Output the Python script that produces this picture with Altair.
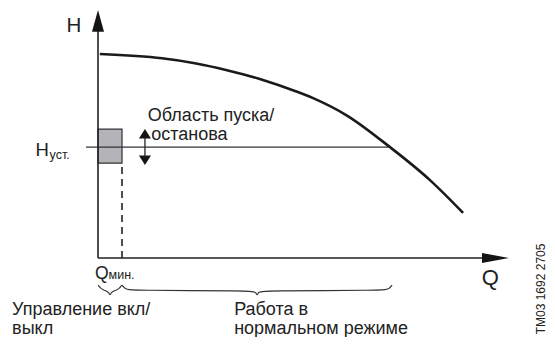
import altair as alt
import pandas as pd

# ---- data (arbitrary Q/H units: origin of axes at 0,0; curve start ~ H=100, curve end ~ Q=100)
curve_q = [0.5, 17.6, 26.6, 35.7, 45.1, 54.1, 59.1, 68.4, 80.2, 91.2, 100.3]
curve_h = [99.5, 97.4, 95.0, 91.5, 87.0, 81.5, 78.0, 69.5, 54.1, 38.0, 22.0]

H_SET = 54.1          # H_уст.
Q_MIN = 6.6           # Q_мин.
BAND = [46.3, 62.9]   # start/stop band around H_уст.
Q_ARROW = 12.9        # double arrow position
Q_SET_END = 80.2      # where H_уст. meets the curve
Q_NORMAL_END = 80.8   # end of "normal operation" brace
Y_AXIS_TOP = 110.7
X_AXIS_END = 106.3

FONT = "Liberation Sans"
INK = "#1a1a1a"

W, H = 539, 329
x_dom = [-24.725, 123.352]
y_dom = [-38.537, 121.951]
xs = alt.Scale(domain=x_dom, nice=False, zero=False)
ys = alt.Scale(domain=y_dom, nice=False, zero=False)


def X(field="q"):
    return alt.X(f"{field}:Q", scale=xs, axis=None)


def Y(field="h"):
    return alt.Y(f"{field}:Q", scale=ys, axis=None)


curve = alt.Chart(pd.DataFrame({"q": curve_q, "h": curve_h})).mark_line(
    color=INK, strokeWidth=2.6, interpolate="monotone"
).encode(x=X(), y=Y(), order="q:Q")

# axes
axes_df = pd.DataFrame({
    "q": [0, 0], "q2": [0, X_AXIS_END], "h": [0, 0], "h2": [Y_AXIS_TOP, 0]
})
axes = alt.Chart(axes_df).mark_rule(color="#222", strokeWidth=1.6).encode(
    x=X(), x2="q2:Q", y=Y(), y2="h2:Q"
)

# vertical arrowheads (y axis, double arrow up/down) as unstacked horizontal areas
HW = 1.65  # half width in Q units
vheads = pd.DataFrame([
    {"g": "yaxis", "h": Y_AXIS_TOP - 0.3, "ql": -HW, "qr": HW},
    {"g": "yaxis", "h": 121.0, "ql": 0, "qr": 0},
    {"g": "up", "h": 58.3, "ql": Q_ARROW - HW, "qr": Q_ARROW + HW},
    {"g": "up", "h": BAND[1], "ql": Q_ARROW, "qr": Q_ARROW},
    {"g": "down", "h": 45.4, "ql": Q_ARROW, "qr": Q_ARROW},
    {"g": "down", "h": 50.0, "ql": Q_ARROW - HW, "qr": Q_ARROW + HW},
])
vhead_layer = alt.Chart(vheads).mark_area(orient="horizontal", color="#151515", opacity=1).encode(
    y=Y(), x=alt.X("ql:Q", scale=xs, axis=None, stack=None), x2="qr:Q", detail="g:N"
)

# x-axis arrowhead as an unstacked area
xhead = alt.Chart(pd.DataFrame({"q": [X_AXIS_END - 0.8, 112.9], "lo": [-2.44, 0], "hi": [2.44, 0]})).mark_area(
    color="#151515", opacity=1
).encode(
    x=X(), y=alt.Y("lo:Q", scale=ys, axis=None, stack=None), y2="hi:Q"
)

# start/stop band box
box = alt.Chart(pd.DataFrame({"q": [0], "q2": [Q_MIN], "h": [BAND[0]], "h2": [BAND[1]]})).mark_rect(
    fill="#b4b4b8", stroke="#333", strokeWidth=1.2
).encode(x=X(), x2="q2:Q", y=Y(), y2="h2:Q")

# H set line
hset = alt.Chart(pd.DataFrame({"q": [-3.3], "q2": [Q_SET_END], "h": [H_SET]})).mark_rule(
    color="#333", strokeWidth=1.3
).encode(x=X(), x2="q2:Q", y=Y())

# dashed Q min line
qmin = alt.Chart(pd.DataFrame({"q": [Q_MIN], "h": [0], "h2": [BAND[0]]})).mark_rule(
    color="#222", strokeWidth=1.6, strokeDash=[7, 5]
).encode(x=X(), y=Y(), y2="h2:Q")

# double arrow shaft
darrow = alt.Chart(pd.DataFrame({"q": [Q_ARROW], "h": [49.0], "h2": [59.0]})).mark_rule(
    color="#222", strokeWidth=1.3
).encode(x=X(), y=Y(), y2="h2:Q")


# braces (underbraces) between two Q values
def brace(q0, q1):
    top, flat, tip = -13.2, -15.9, -18.5
    qm = (q0 + q1) / 2
    pts = [(q0, top), (q0 + 0.8, flat + 0.9), (q0 + 1.8, flat), (qm - 1.2, flat),
           (qm - 0.3, flat - 0.9), (qm, tip), (qm + 0.3, flat - 0.9), (qm + 1.2, flat),
           (q1 - 1.8, flat), (q1 - 0.8, flat + 0.9), (q1, top)]
    return pd.DataFrame({"q": [p[0] for p in pts], "h": [p[1] for p in pts], "i": range(len(pts))})


b1 = brace(0, Q_MIN).assign(g="a")
b2 = brace(Q_MIN, Q_NORMAL_END).assign(g="b")
braces = alt.Chart(pd.concat([b1, b2])).mark_line(
    color="#333", strokeWidth=1.1, interpolate="basis"
).encode(x=X(), y=Y(), detail="g:N", order="i:Q")

# labels
labels = pd.DataFrame([
    {"q": -6.6, "h": 113.2, "t": "H", "fs": 20.5, "al": "center", "bl": "middle"},
    {"q": 107.8, "h": -10.0, "t": "Q", "fs": 22, "al": "center", "bl": "middle"},
    {"q": -17.2, "h": 49.8, "t": "H", "fs": 18.5, "al": "left", "bl": "alphabetic"},
    {"q": -13.3, "h": 48.4, "t": "уст.", "fs": 12.5, "al": "left", "bl": "alphabetic"},
    {"q": -0.8, "h": -10.2, "t": "Q", "fs": 17.5, "al": "left", "bl": "alphabetic"},
    {"q": 2.9, "h": -10.2, "t": "мин.", "fs": 12.5, "al": "left", "bl": "alphabetic"},
    {"q": 13.7, "h": 66.6, "t": "Область пуска/", "fs": 18, "al": "left", "bl": "alphabetic"},
    {"q": 14.6, "h": 57.6, "t": "останова", "fs": 18, "al": "left", "bl": "alphabetic"},
    {"q": -23.6, "h": -27.6, "t": "Управление вкл/", "fs": 18, "al": "left", "bl": "alphabetic"},
    {"q": -23.6, "h": -37.0, "t": "выкл", "fs": 18, "al": "left", "bl": "alphabetic"},
    {"q": 37.4, "h": -27.6, "t": "Работа в", "fs": 18, "al": "left", "bl": "alphabetic"},
    {"q": 37.4, "h": -37.0, "t": "нормальном режиме", "fs": 18, "al": "left", "bl": "alphabetic"},
])

text_layers = []
for (fs, al, bl), grp in labels.groupby(["fs", "al", "bl"]):
    text_layers.append(
        alt.Chart(grp).mark_text(font=FONT, fontSize=float(fs), align=al, baseline=bl, color="#222").encode(
            x=X(), y=Y(), text="t:N"
        )
    )

code = alt.Chart(pd.DataFrame({"q": [121.6], "h": [-15.1], "t": ["TM03 1692 2705"]})).mark_text(
    font=FONT, fontSize=12, angle=270, align="center", baseline="middle", color="#222"
).encode(x=X(), y=Y(), text="t:N")

chart = alt.layer(
    box, hset, qmin, axes, vhead_layer, xhead, curve, darrow, braces, *text_layers, code
).properties(
    width=W, height=H, padding=0, autosize=alt.AutoSizeParams(type="none")
).configure_view(stroke=None)

chart.save("out.html", embed_options={"renderer": "svg", "actions": False})
